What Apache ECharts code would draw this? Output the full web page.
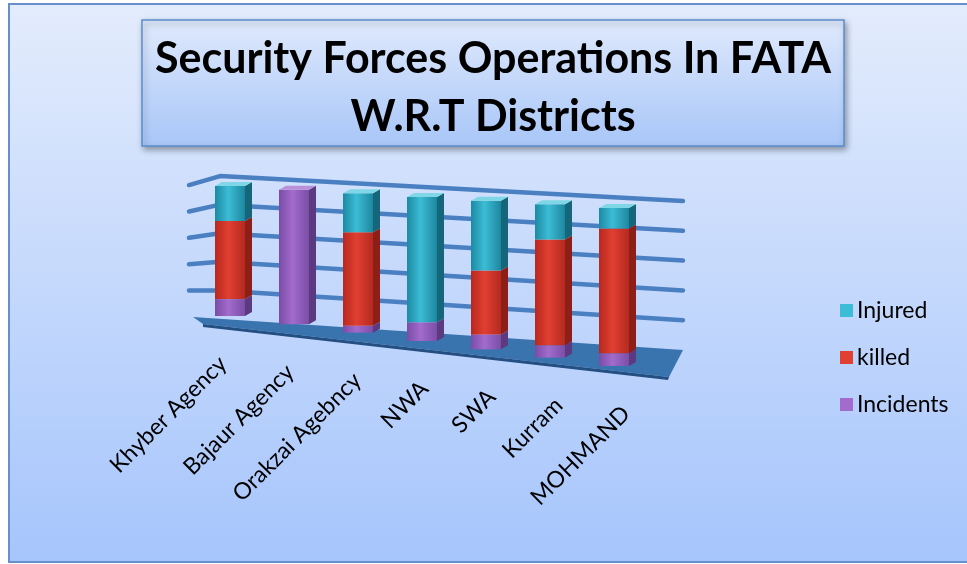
<!DOCTYPE html>
<html>
<head>
<meta charset="utf-8">
<script src="https://cdn.jsdelivr.net/npm/echarts@6/dist/echarts.min.js"></script>
<style>
  html, body { margin: 0; padding: 0; background: #fff; }
  #main { width: 967px; height: 564px; }
</style>
</head>
<body>
<div id="main"></div>
<script>
  // data (100% stacked)
  const categories = ['Khyber Agency', 'Bajaur Agency', 'Orakzai Agebncy', 'NWA', 'SWA', 'Kurram', 'MOHMAND'];
  const incidents = [13, 100, 5, 13, 10, 8, 8];
  const killed = [60, 0, 67, 0, 43, 69, 79];
  const injured = [27, 0, 28, 87, 47, 23, 13];
  const gridTicks = [0, 20, 40, 60, 80, 100];

  // fake 3d: bars further right sit lower and grow a bit
  const SHEAR = 0.13;
  const GROW = 0.00056;

  const chart = echarts.init(document.getElementById('main'));

  function project(api, i, v) {
    const base = api.coord([i, 0]);
    const p = api.coord([i, v]);
    const x0 = api.coord([0, 0])[0];
    const dx = base[0] - x0;
    const by = base[1] + dx * SHEAR;
    return [base[0], by - (base[1] - p[1]) * (1 + dx * GROW), dx];
  }

  // build stacked segments [index, lo, hi, isTop]
  const stacks = [incidents, killed, injured];
  function segments(k) {
    return categories.map((c, i) => {
      let lo = 0;
      for (let j = 0; j < k; j++) lo += stacks[j][i];
      const hi = lo + stacks[k][i];
      let top = true;
      for (let j = k + 1; j < stacks.length; j++) if (stacks[j][i] > 0) top = false;
      return [i, lo, hi, top ? 1 : 0];
    });
  }

  const palette = {
    Incidents: { front: ['#7a4ca6', '#a26bcc', '#7a4ea6'], side: '#5b3a82', top: '#b891d8' },
    killed: { front: ['#b8281e', '#e03f31', '#b52a20'], side: '#8e1f18', top: '#ea7a6e' },
    Injured: { front: ['#1c8aa2', '#3cbcd6', '#1d879f'], side: '#15667a', top: '#7fd6e6' }
  };

  function barSeries(name, k) {
    const pal = palette[name];
    return {
      name: name,
      type: 'custom',
      z: 5,
      itemStyle: { color: pal.front[1] },
      data: segments(k),
      encode: { x: 0, y: [1, 2] },
      renderItem: function (params, api) {
        const i = api.value(0);
        const lov = api.value(1), hiv = api.value(2);
        if (hiv - lov <= 0) return null;
        const lo = project(api, i, lov);
        const hi = project(api, i, hiv);
        const xc = lo[0];
        const fw = 30, sw = 7, su = 4;
        const xl = xc - 18, xr = xl + fw;
        const children = [
          {
            type: 'rect',
            shape: { x: xl, y: hi[1], width: fw, height: lo[1] - hi[1] },
            style: {
              fill: new echarts.graphic.LinearGradient(0, 0, 1, 0, [
                { offset: 0, color: pal.front[0] },
                { offset: 0.45, color: pal.front[1] },
                { offset: 1, color: pal.front[2] }
              ])
            }
          },
          {
            type: 'polygon',
            shape: { points: [[xr, hi[1]], [xr + sw, hi[1] - su], [xr + sw, lo[1] - su], [xr, lo[1]]] },
            style: { fill: pal.side }
          }
        ];
        if (api.value(3) === 1) {
          children.push({
            type: 'polygon',
            shape: { points: [[xl, hi[1]], [xl + sw, hi[1] - su], [xr + sw, hi[1] - su], [xr, hi[1]]] },
            style: { fill: pal.top }
          });
        }
        return { type: 'group', children: children };
      }
    };
  }

  const option = {
    animation: false,
    graphic: [
      {
        type: 'rect',
        z: -10,
        shape: { x: 9, y: 4, width: 970, height: 558 },
        style: {
          fill: new echarts.graphic.LinearGradient(0, 0, 0, 1, [
            { offset: 0, color: '#e3ecfc' },
            { offset: 1, color: '#a6c5fc' }
          ]),
          stroke: '#6690cc',
          lineWidth: 2
        }
      },
      {
        type: 'rect',
        z: -9,
        shape: { x: 142, y: 20, width: 702, height: 126 },
        style: {
          fill: new echarts.graphic.LinearGradient(0, 0, 0, 1, [
            { offset: 0, color: '#dfe9fc' },
            { offset: 1, color: '#a8c6f8' }
          ]),
          stroke: '#5b8dce',
          lineWidth: 1.5,
          shadowBlur: 6,
          shadowOffsetX: 2,
          shadowOffsetY: 3,
          shadowColor: 'rgba(0,0,0,0.35)'
        }
      },
      {
        type: 'text',
        z: 10,
        x: 493,
        y: 30,
        style: {
          text: 'Security Forces Operations In FATA\nW.R.T Districts',
          fill: '#000',
          font: 'bold 43px Lato',
          lineHeight: 58,
          align: 'center'
        }
      }
    ],
    legend: {
      orient: 'vertical',
      left: 835,
      top: 294,
      itemWidth: 13,
      itemHeight: 13,
      itemGap: 24,
      icon: 'rect',
      data: ['Injured', 'killed', 'Incidents'],
      textStyle: { fontFamily: 'Lato', fontSize: 23, color: '#000', padding: [0, 0, 0, -1] }
    },
    grid: { left: 201, width: 448, top: 186, height: 130 },
    xAxis: { type: 'category', data: categories, show: false },
    yAxis: { type: 'value', min: 0, max: 100, interval: 20, show: false },
    series: [
      {
        // back wall grid lines
        type: 'custom',
        z: 2,
        silent: true,
        data: gridTicks.filter(v => v > 0).map(v => [0, v]),
        encode: { x: 0, y: 1 },
        renderItem: function (params, api) {
          const cs = params.coordSys;
          const v = api.value(1);
          const b0 = api.coord([0, 0])[1];
          const h = b0 - api.coord([0, v])[1];
          const xL = cs.x - 12, xC = cs.x + 19, xR = cs.x + cs.width + 34;
          const yL = b0 + 1 - h * 1.015;
          const yR = b0 + 34 - h * 1.146;
          const yC = yL + (yR - yL) * (xC - xL) / (xR - xL) - v / 10;
          return {
            type: 'polyline',
            shape: { points: [[xL, yL], [xC, yC], [xR, yR]] },
            style: { stroke: '#4a7fc2', lineWidth: 4.5, fill: null, lineCap: 'round', lineJoin: 'round' }
          };
        }
      },
      {
        // floor plate
        type: 'custom',
        z: 3,
        silent: true,
        data: [[0, 0]],
        encode: { x: 0, y: 1 },
        renderItem: function (params, api) {
          const cs = params.coordSys;
          const b0 = api.coord([0, 0])[1];
          const xR = cs.x + cs.width + 34;
          return {
            type: 'group',
            children: [
              {
                type: 'polygon',
                shape: { points: [[cs.x - 8, b0 + 1], [xR, b0 + 34], [xR - 14, b0 + 61], [cs.x + 2, b0 + 8]] },
                style: { fill: '#3a74ae' }
              },
              {
                type: 'polygon',
                shape: { points: [[cs.x + 2, b0 + 8], [xR - 14, b0 + 61], [xR - 15, b0 + 64], [cs.x + 2, b0 + 11]] },
                style: { fill: '#234f82' }
              }
            ]
          };
        }
      },
      barSeries('Incidents', 0),
      barSeries('killed', 1),
      barSeries('Injured', 2),
      {
        // category labels following the sloped floor
        type: 'custom',
        z: 6,
        silent: true,
        data: categories.map((c, i) => [i, 0]),
        encode: { x: 0, y: 1 },
        renderItem: function (params, api) {
          const i = api.value(0);
          const p = project(api, i, 0);
          return {
            type: 'text',
            x: p[0] - 10 + p[2] * 0.05,
            y: p[1] + 44,
            rotation: Math.PI / 4,
            style: {
              text: categories[i],
              font: '23px Lato',
              fill: '#000',
              align: 'right',
              verticalAlign: 'middle'
            }
          };
        }
      }
    ]
  };

  chart.setOption(option);
</script>
</body>
</html>
